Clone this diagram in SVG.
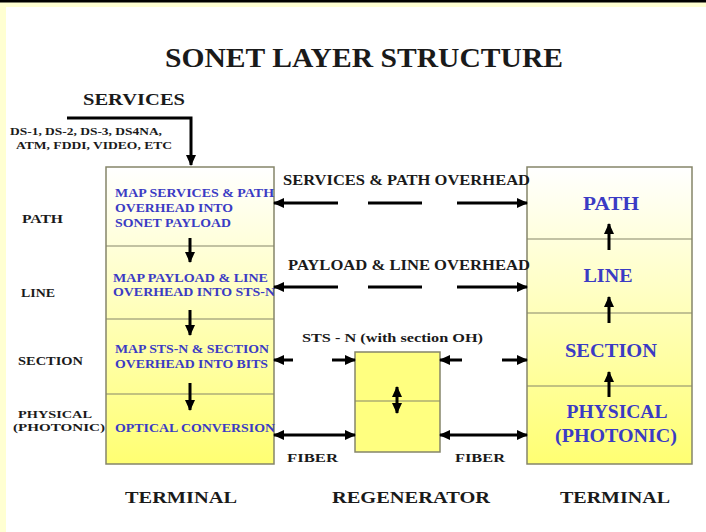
<svg xmlns="http://www.w3.org/2000/svg" width="706" height="532" viewBox="0 0 706 532">
<style>
.t{font-family:"Liberation Serif","Times New Roman",serif;font-weight:bold;fill:#1a1a1a}
.b{fill:#3b3bc4}
.ln{stroke:#000;stroke-width:3;fill:none}
.box{stroke:#85856a;stroke-width:1.5}
.div{stroke:#85856a;stroke-width:1.2}
</style>
<defs>
<linearGradient id="g" x1="0" y1="0" x2="0" y2="1">
<stop offset="0" stop-color="#ffffff"/>
<stop offset="1" stop-color="#ffff72"/>
</linearGradient>
<marker id="ah" markerUnits="userSpaceOnUse" markerWidth="11" markerHeight="10" refX="10" refY="5" orient="auto-start-reverse" viewBox="0 0 11 10">
<path d="M0,0 L11,5 L0,10 z" fill="#000"/>
</marker>
</defs>
<rect width="706" height="532" fill="#fff"/>
<rect width="706" height="7" fill="#ffffd2"/>
<rect width="6" height="532" fill="#ffffd2"/>
<rect width="706" height="2.5" fill="#000"/>

<g id="title"><text class="t" x="364" y="67" font-size="28" text-anchor="middle" textLength="398" lengthAdjust="spacingAndGlyphs">SONET LAYER STRUCTURE</text></g>

<g id="services">
<text class="t" x="83" y="105" font-size="17" textLength="102" lengthAdjust="spacingAndGlyphs">SERVICES</text>
<text class="t" x="10" y="135" font-size="10" textLength="152" lengthAdjust="spacingAndGlyphs">DS-1, DS-2, DS-3, DS4NA,</text>
<text class="t" x="16" y="149" font-size="10" textLength="156" lengthAdjust="spacingAndGlyphs">ATM, FDDI, VIDEO, ETC</text>
</g>

<g id="layer-labels">
<text class="t" x="22" y="223" font-size="12" textLength="41" lengthAdjust="spacingAndGlyphs">PATH</text>
<text class="t" x="21" y="297" font-size="12" textLength="34" lengthAdjust="spacingAndGlyphs">LINE</text>
<text class="t" x="18" y="365" font-size="12" textLength="65" lengthAdjust="spacingAndGlyphs">SECTION</text>
<text class="t" x="18" y="418" font-size="11" textLength="74" lengthAdjust="spacingAndGlyphs">PHYSICAL</text>
<text class="t" x="13" y="431" font-size="11" textLength="92" lengthAdjust="spacingAndGlyphs">(PHOTONIC)</text>
</g>

<g id="terminal-left">
<rect class="box" x="106" y="167" width="168" height="297" fill="url(#g)"/>
<line class="div" x1="106" y1="246" x2="274" y2="246"/>
<line class="div" x1="106" y1="319" x2="274" y2="319"/>
<line class="div" x1="106" y1="394" x2="274" y2="394"/>
<text class="t b" x="115" y="197" font-size="12" textLength="159" lengthAdjust="spacingAndGlyphs">MAP SERVICES &amp; PATH</text>
<text class="t b" x="115" y="212" font-size="12" textLength="118" lengthAdjust="spacingAndGlyphs">OVERHEAD INTO</text>
<text class="t b" x="115" y="227" font-size="12" textLength="116" lengthAdjust="spacingAndGlyphs">SONET  PAYLOAD</text>
<text class="t b" x="113" y="282" font-size="12" textLength="155" lengthAdjust="spacingAndGlyphs">MAP PAYLOAD &amp; LINE</text>
<text class="t b" x="113" y="296" font-size="12" textLength="162" lengthAdjust="spacingAndGlyphs">OVERHEAD INTO STS-N</text>
<text class="t b" x="115" y="353" font-size="12" textLength="154" lengthAdjust="spacingAndGlyphs">MAP STS-N &amp; SECTION</text>
<text class="t b" x="115" y="368" font-size="12" textLength="153" lengthAdjust="spacingAndGlyphs">OVERHEAD INTO BITS</text>
<text class="t b" x="115" y="432" font-size="12" textLength="160" lengthAdjust="spacingAndGlyphs">OPTICAL CONVERSION</text>
</g>

<g id="regenerator">
<rect class="box" x="355" y="352" width="85" height="100" fill="#ffff80"/>
<line class="div" x1="355" y1="401" x2="440" y2="401"/>
</g>

<g id="terminal-right">
<rect class="box" x="527" y="167" width="165" height="297" fill="url(#g)"/>
<line class="div" x1="527" y1="239" x2="692" y2="239"/>
<line class="div" x1="527" y1="313" x2="692" y2="313"/>
<line class="div" x1="527" y1="386" x2="692" y2="386"/>
<text class="t b" x="611" y="210" font-size="18" text-anchor="middle" textLength="56" lengthAdjust="spacingAndGlyphs">PATH</text>
<text class="t b" x="608" y="282" font-size="18" text-anchor="middle" textLength="49" lengthAdjust="spacingAndGlyphs">LINE</text>
<text class="t b" x="611" y="357" font-size="18" text-anchor="middle" textLength="92" lengthAdjust="spacingAndGlyphs">SECTION</text>
<text class="t b" x="617" y="418" font-size="18" text-anchor="middle" textLength="101" lengthAdjust="spacingAndGlyphs">PHYSICAL</text>
<text class="t b" x="616" y="442" font-size="18" text-anchor="middle" textLength="122" lengthAdjust="spacingAndGlyphs">(PHOTONIC)</text>
</g>

<g id="connector-labels">
<text class="t" x="283" y="185" font-size="14" textLength="247" lengthAdjust="spacingAndGlyphs">SERVICES &amp; PATH OVERHEAD</text>
<text class="t" x="288" y="270" font-size="14" textLength="242" lengthAdjust="spacingAndGlyphs">PAYLOAD &amp; LINE OVERHEAD</text>
<text class="t" x="302" y="342" font-size="13" textLength="181" lengthAdjust="spacingAndGlyphs">STS - N (with section OH)</text>
<text class="t" x="287" y="462" font-size="12" textLength="51" lengthAdjust="spacingAndGlyphs">FIBER</text>
<text class="t" x="455" y="462" font-size="12" textLength="50" lengthAdjust="spacingAndGlyphs">FIBER</text>
</g>

<g id="bottom-labels">
<text class="t" x="181" y="503" font-size="17" text-anchor="middle" textLength="112" lengthAdjust="spacingAndGlyphs">TERMINAL</text>
<text class="t" x="411" y="503" font-size="17" text-anchor="middle" textLength="158" lengthAdjust="spacingAndGlyphs">REGENERATOR</text>
<text class="t" x="615" y="503" font-size="17" text-anchor="middle" textLength="110" lengthAdjust="spacingAndGlyphs">TERMINAL</text>
</g>

<g id="connectors">
<polyline class="ln" points="67,118 191,118 191,165" marker-end="url(#ah)"/>
<line class="ln" x1="190" y1="238" x2="190" y2="262" marker-end="url(#ah)"/>
<line class="ln" x1="190" y1="310" x2="190" y2="335" marker-end="url(#ah)"/>
<line class="ln" x1="190" y1="383" x2="190" y2="410" marker-end="url(#ah)"/>
<line class="ln" x1="609" y1="250" x2="609" y2="224" marker-end="url(#ah)"/>
<line class="ln" x1="609" y1="323" x2="609" y2="297" marker-end="url(#ah)"/>
<line class="ln" x1="609" y1="397" x2="609" y2="372" marker-end="url(#ah)"/>
<line class="ln" x1="338" y1="203" x2="274" y2="203" marker-end="url(#ah)"/>
<line class="ln" x1="368" y1="203" x2="422" y2="203"/>
<line class="ln" x1="457" y1="203" x2="527" y2="203" marker-end="url(#ah)"/>
<line class="ln" x1="338" y1="287" x2="274" y2="287" marker-end="url(#ah)"/>
<line class="ln" x1="368" y1="287" x2="422" y2="287"/>
<line class="ln" x1="457" y1="287" x2="527" y2="287" marker-end="url(#ah)"/>
<line class="ln" x1="293" y1="360" x2="274" y2="360" marker-end="url(#ah)"/>
<line class="ln" x1="332" y1="360" x2="355" y2="360" marker-end="url(#ah)"/>
<line class="ln" x1="462" y1="360" x2="440" y2="360" marker-end="url(#ah)"/>
<line class="ln" x1="502" y1="360" x2="527" y2="360" marker-end="url(#ah)"/>
<line class="ln" x1="274" y1="435" x2="355" y2="435" marker-start="url(#ah)" marker-end="url(#ah)"/>
<line class="ln" x1="440" y1="435" x2="527" y2="435" marker-start="url(#ah)" marker-end="url(#ah)"/>
<line class="ln" x1="397" y1="387" x2="397" y2="413" marker-start="url(#ah)" marker-end="url(#ah)"/>
</g>
</svg>
